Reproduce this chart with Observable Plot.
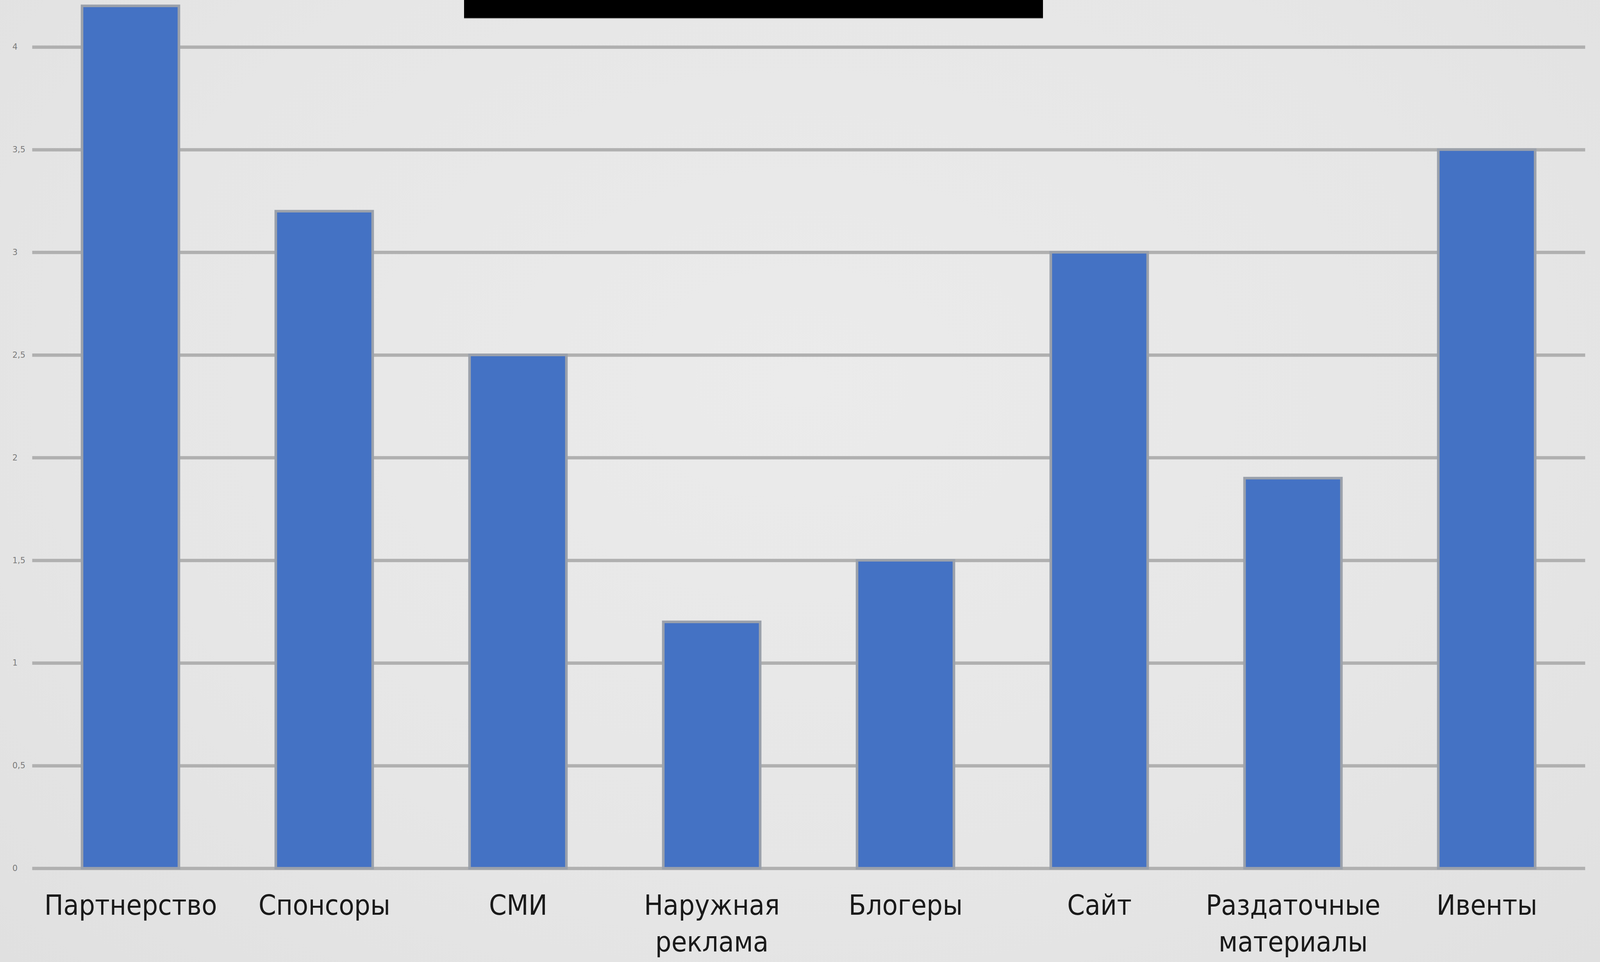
<!DOCTYPE html>
<html>
<head>
<meta charset="utf-8">
<script src="https://cdn.jsdelivr.net/npm/d3@7"></script>
<script src="https://cdn.jsdelivr.net/npm/@observablehq/plot@0.6"></script>
<style>
  html, body { margin: 0; padding: 0; width: 100%; height: 100%; overflow: hidden; }
  body {
    position: relative;
    background: radial-gradient(ellipse at 50% 40%, #ebebeb 0%, #e6e6e6 60%, #e0e0e0 100%);
  }
  #chart svg { display: block; background: transparent; max-width: none; }
  #titlebox { position: absolute; top: 0; background: #000; border-bottom: 2px solid #9a9a9a; }
</style>
</head>
<body>
<div id="chart"></div>
<div id="titlebox"></div>
<script>
const categories = ["Партнерство", "Спонсоры", "СМИ", "Наружная\nреклама", "Блогеры", "Сайт", "Раздаточные\nматериалы", "Ивенты"];
const values = [4.2, 3.2, 2.5, 1.2, 1.5, 3.0, 1.9, 3.5];
const yTicks = [0, 0.5, 1, 1.5, 2, 2.5, 3, 3.5, 4];

const data = categories.map((c, i) => ({category: c, value: values[i]}));

const W = document.documentElement.clientWidth || window.innerWidth || 4320;
const H = document.documentElement.clientHeight || window.innerHeight || 2463;
const sx = W / 4320, sy = H / 2463, s = Math.min(sx, sy);

const tb = document.getElementById("titlebox");
tb.style.left = (1253 * sx) + "px";
tb.style.width = (1563 * sx) + "px";
tb.style.height = (46 * sy) + "px";

const chart = Plot.plot({
  width: W,
  height: H,
  marginLeft: 87 * sx,
  marginRight: 40 * sx,
  marginTop: 15 * sy,
  marginBottom: 240 * sy,
  style: {background: "transparent"},
  x: {domain: categories, paddingInner: 0.5, paddingOuter: 0.25, label: null},
  y: {domain: [0, 4.2], label: null},
  marks: [
    Plot.ruleY(yTicks, {stroke: "#b0b0b0", strokeWidth: 9 * s}),
    Plot.barY(data, {x: "category", y: "value", fill: "#4472C4", stroke: "#9ba1ab", strokeWidth: 7 * s}),
    Plot.axisY({
      ticks: yTicks, tickSize: 0, tickPadding: 54 * sx, textAnchor: "start",
      tickFormat: d => String(d).replace(".", ","),
      fontSize: 22 * s, fill: "#7a7a7a", label: null,
      fontFamily: "DejaVu Sans"
    }),
    Plot.axisX({
      tickSize: 0, tickPadding: 52 * sy, fontSize: 76 * s, lineHeight: 1.3,
      fill: "#1a1a1a", label: null,
      fontFamily: "DejaVu Sans Condensed, DejaVu Sans",
      fontStretch: "condensed"
    })
  ]
});
document.getElementById("chart").appendChild(chart);
</script>
</body>
</html>
